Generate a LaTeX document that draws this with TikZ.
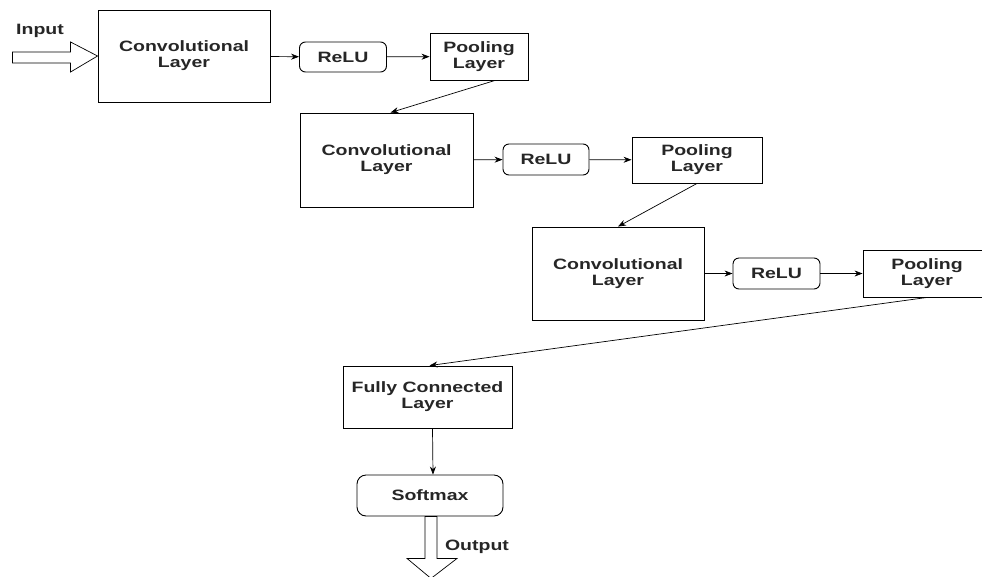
\documentclass[tikz,border=0pt]{standalone}
\usepackage{fontspec}
\setmainfont{Liberation Sans}[FakeStretch=1.3]
\usetikzlibrary{arrows.meta}
\begin{document}
\begin{tikzpicture}[x=1pt,y=-1pt,
  every node/.style={font=\bfseries\fontsize{15}{16}\selectfont, text=black!85, align=center, inner sep=0pt},
  plainbox/.style={rectangle, draw, line width=0.9pt},
  softbox/.style={rectangle, draw, line width=0.9pt, rounded corners=6pt},
  flow/.style={draw, line width=0.7pt, -{Stealth[length=8pt,width=6pt]}},
  fat/.style={draw, line width=0.7pt, fill=white}]
\useasboundingbox (0,0) rectangle (982,576);
\clip (0,0) rectangle (982,576);

% first stage
\node[plainbox, minimum width=172pt, minimum height=92pt] (conv1) at (184,56) {Convolutional\\Layer};
\node[softbox, minimum width=87pt, minimum height=30pt] (relu1) at (343,57) {ReLU};
\node[plainbox, minimum width=98pt, minimum height=47pt] (pool1) at (479,56.5) {Pooling\\Layer};

% second stage
\node[plainbox, minimum width=173pt, minimum height=94pt] (conv2) at (386.5,160) {Convolutional\\Layer};
\node[softbox, minimum width=86pt, minimum height=31pt] (relu2) at (546,159.5) {ReLU};
\node[plainbox, minimum width=130pt, minimum height=46pt] (pool2) at (697,160) {Pooling\\Layer};

% third stage
\node[plainbox, minimum width=172pt, minimum height=93pt] (conv3) at (618,273.5) {Convolutional\\Layer};
\node[softbox, minimum width=87pt, minimum height=31pt] (relu3) at (776.5,273.5) {ReLU};
\node[plainbox, minimum width=128pt, minimum height=47pt] (pool3) at (927,273.5) {Pooling\\Layer};

% classifier
\node[plainbox, minimum width=169pt, minimum height=62pt] (fc) at (427.5,397) {Fully Connected\\Layer};
\node[softbox, rounded corners=9pt, minimum width=146pt, minimum height=41pt] (soft) at (430,495.5) {Softmax};

% labels
\node (inlbl) at (40,31) {Input};
\node (outlbl) at (477,547) {Output};

% input and output block arrows
\path[fat] ([shift={(-85,-4)}]conv1.west) -- ([shift={(-27,-4)}]conv1.west)
  -- ([shift={(-27,-14)}]conv1.west) -- (conv1.west)
  -- ([shift={(-27,16)}]conv1.west) -- ([shift={(-27,7)}]conv1.west)
  -- ([shift={(-85,7)}]conv1.west) -- cycle;
\path[fat] ([shift={(-5,0)}]soft.south) -- ([shift={(-5,42)}]soft.south)
  -- ([shift={(-23,42)}]soft.south) -- ([shift={(1,62)}]soft.south)
  -- ([shift={(27,42)}]soft.south) -- ([shift={(7,42)}]soft.south)
  -- ([shift={(7,0)}]soft.south) -- cycle;

% connectors
\path[flow] (conv1) -- (relu1);
\path[flow] (relu1) -- (pool1);
\path[flow] ([xshift=16pt]pool1.south) -- ([xshift=4pt]conv2.north);
\path[flow] (conv2) -- (relu2);
\path[flow] (relu2) -- (pool2);
\path[flow] (pool2.south) -- (conv3.north);
\path[flow] (conv3) -- (relu3);
\path[flow] (relu3) -- (pool3);
\path[flow] (pool3.south) -- ([xshift=2pt]fc.north);
\path[flow] ([xshift=5pt]fc.south) -- ([xshift=3pt]soft.north);
\end{tikzpicture}
\end{document}
